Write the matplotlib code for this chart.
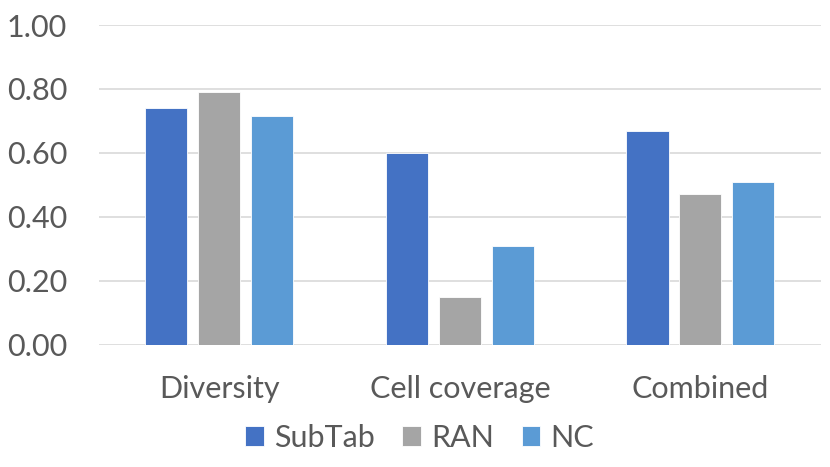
import numpy as np
import matplotlib
matplotlib.use('agg')
import matplotlib.pyplot as plt

categories = ['Diversity', 'Cell coverage', 'Combined']
series = ['SubTab', 'RAN', 'NC']
subtab = [0.74, 0.60, 0.67]
ran = [0.79, 0.15, 0.47]
nc = [0.715, 0.31, 0.51]
yticks = [0.0, 0.2, 0.4, 0.6, 0.8, 1.0]

colors = ['#4472C4', '#A5A5A5', '#5B9BD5']
txt = '#595959'

plt.rcParams['font.family'] = ['Lato', 'DejaVu Sans']

fig = plt.figure(figsize=(8.3, 4.67), dpi=100)
ax = fig.add_axes([99/830, 1-344.7/467, (820.7-99)/830, (344.7-25)/467])

x = np.arange(len(categories))
w = 0.175
step = 0.22
for j, (name, vals) in enumerate(zip(series, [subtab, ran, nc])):
    ax.bar(x + (j-1)*step, vals, w, color=colors[j], label=name,
           edgecolor='white', linewidth=0.6, zorder=3)

ax.set_xlim(-0.5, 2.5)
ax.set_ylim(0, 1.0)
ax.set_yticks(yticks)
ax.set_yticklabels(['%.2f' % v for v in yticks])
ax.set_xticks(x)
ax.set_xticklabels(categories)
ax.yaxis.grid(True, color='#D9D9D9', linewidth=1.2, zorder=0)
ax.tick_params(axis='both', length=0, labelsize=22, colors=txt)
ax.tick_params(axis='y', pad=23)
ax.tick_params(axis='x', pad=22)
for s in ax.spines.values():
    s.set_visible(False)

leg = fig.legend(loc='center', bbox_to_anchor=(419.5/830, 1-438/467), ncol=3,
                 frameon=False, fontsize=22, handlelength=0.62, handleheight=0.62,
                 handletextpad=0.33, columnspacing=0.9, borderpad=0)
for t in leg.get_texts():
    t.set_color(txt)

fig.savefig('out.png', dpi=100)
